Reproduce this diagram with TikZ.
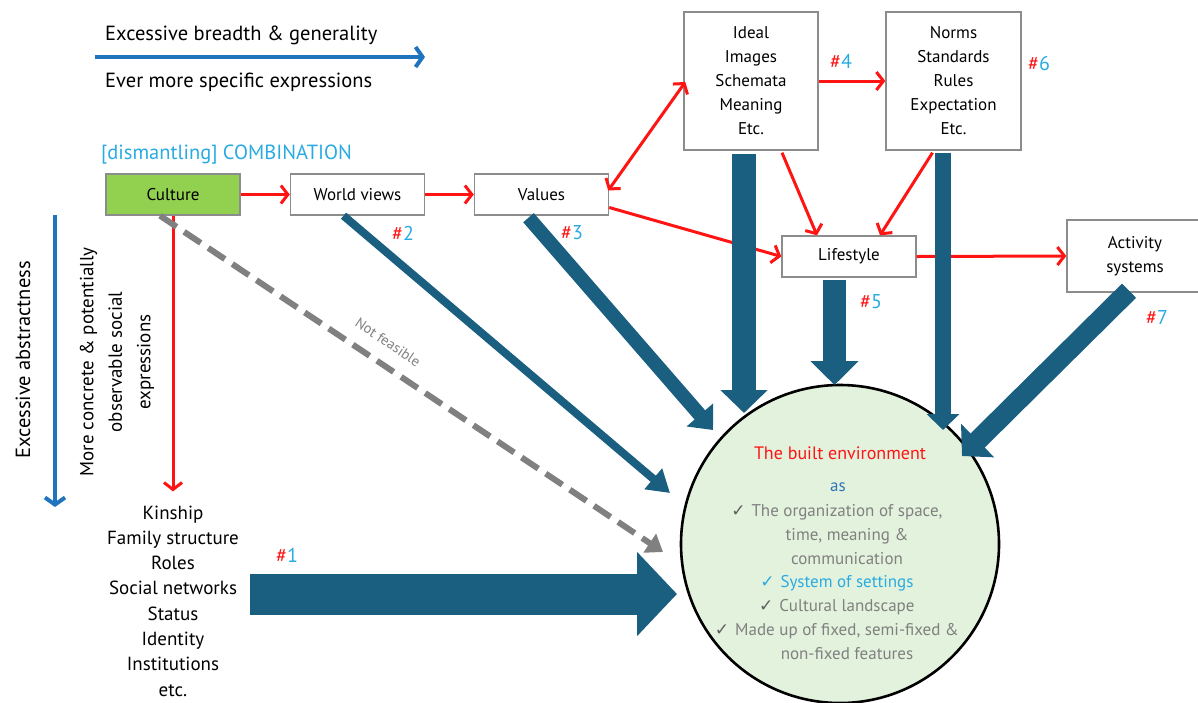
\documentclass[tikz,border=0pt]{standalone}
\usepackage{fontspec}
\setmainfont{PT Sans}
\newfontfamily\symfont{DejaVu Sans}
\usetikzlibrary{arrows.meta,calc}
\definecolor{myred}{RGB}{255,20,20}
\definecolor{mycyan}{RGB}{41,171,226}
\definecolor{legblue}{RGB}{31,116,189}
\definecolor{dblue}{RGB}{26,94,128}
\definecolor{boxgray}{RGB}{140,140,140}
\definecolor{cultgreen}{RGB}{146,208,80}
\definecolor{circfill}{RGB}{227,242,221}
\definecolor{txtgray}{RGB}{128,128,128}
\definecolor{chkgray}{RGB}{95,95,95}
\definecolor{asblue}{RGB}{46,117,182}
\definecolor{dashgray}{RGB}{128,128,128}
\newcommand{\fsz}[2]{\fontsize{#1pt}{#2pt}\selectfont}
\newcommand{\hashnum}[1]{\textcolor{myred}{\#}\textcolor{mycyan}{#1}}
\newcommand{\chk}[1]{\llap{\textcolor{#1}{\symfont ✓}\hspace{6pt}}}
\begin{document}
\begin{tikzpicture}[x=1pt,y=-1pt,
  box/.style={draw=boxgray, line width=1.4pt, fill=white, minimum width=134pt, minimum height=41pt, inner sep=0pt, font=\fsz{17}{24}, align=center},
  plain/.style={inner sep=0pt, font=\fsz{20.5}{24}},
  rarr/.style={draw=myred, line width=3pt, -{Straight Barb[length=7pt,width=18pt]}},
  hashlbl/.style={inner sep=0pt, font=\fsz{20}{24}},
  fat/.style={draw=dblue, line width=#1}
]
\useasboundingbox (0,0) rectangle (1198,702);

% legend
\coordinate (lg1) at (95,57);
\coordinate (lg2) at (425,57);
\draw[draw=legblue, line width=4pt, -{Straight Barb[length=7pt,width=20pt]}] (lg1) -- (lg2);
\node[plain, anchor=west] (leg1) at (105,35) {Excessive breadth \& generality};
\node[plain, anchor=west] (leg2) at (105,82) {Ever more specific expressions};
\node[plain, anchor=west, text=mycyan] (comb) at (101,155) {[dismantling] COMBINATION};

% vertical legend
\coordinate (vl1) at (55,215);
\coordinate (vl2) at (55,507);
\draw[draw=legblue, line width=4pt, -{Straight Barb[length=7pt,width=20pt]}] (vl1) -- (vl2);
\node[plain, rotate=90] (abs) at (23,360) {Excessive abstractness};
\node[plain, rotate=90, align=center, font=\fsz{19}{28.5}] (conc) at (117,362) {More concrete \& potentially\\observable social\\expressions};

% circle
\node[circle, draw=black, line width=2.6pt, fill=circfill, minimum size=318pt, inner sep=0pt] (env) at (840,544) {};
\node[inner sep=0pt, font=\fsz{18}{24}, text=myred] (envt) at (840,453) {The built environment};
\node[inner sep=0pt, font=\fsz{17}{24}, text=asblue] (envas) at (838,487) {as};
\node[inner sep=0pt, font=\fsz{17}{23.8}, align=center, text=txtgray] (envb) at (847,582)
 {\chk{chkgray}The organization of space,\\
  time, meaning \&\\
  communication\\
  \textcolor{mycyan}{\chk{mycyan}System of settings}\\
  \chk{chkgray}Cultural landscape\\
  \chk{chkgray}Made up of fixed, semi-fixed \&\\
  non-fixed features};

% boxes
\node[box, fill=cultgreen] (culture) at (173,194.5) {Culture};
\node[box] (world) at (357.5,194.5) {World views};
\node[box] (values) at (541.5,194.5) {Values};
\node[box, minimum height=138pt] (ideal) at (751,81) {Ideal\\Images\\Schemata\\Meaning\\Etc.};
\node[box, minimum height=138pt, minimum width=135pt] (norms) at (953.5,81) {Norms\\Standards\\Rules\\Expectation\\Etc.};
\node[box] (life) at (849,256.5) {Lifestyle};
\node[box, minimum width=136pt, minimum height=72pt] (act) at (1135,256) {Activity\\systems};

% list
\node[inner sep=0pt, align=center, font=\fsz{19}{25.3}] (kin) at (173,601) {Kinship\\Family structure\\Roles\\Social networks\\Status\\Identity\\Institutions\\etc.};

% red arrows
\draw[rarr] (culture.east) -- (world.west);
\draw[rarr] (world.east) -- (values.west);
\draw[rarr, {Straight Barb[length=7pt,width=18pt]}-{Straight Barb[length=7pt,width=18pt]}] ($(values.east)+(-1,-4)$) -- ($(ideal.west)+(2,1)$);
\draw[rarr] (ideal.east) -- (norms.west);
\draw[rarr] ($(values.east)+(0,13)$) -- (life.west);
\draw[rarr] ($(ideal.south)+(31,2)$) -- ($(life.north)+(-32,0)$);
\draw[rarr] ($(norms.south)+(-21,2)$) -- ($(life.north)+(31,0)$);
\draw[rarr] (life.east) -- (act.west);
\draw[rarr] (culture.south) -- ($(kin.north)+(0,-14)$);

% dashed gray
\coordinate (dt) at (663,552);
\draw[draw=dashgray, line width=6pt, dash pattern=on 20pt off 9pt, -{Triangle[length=16pt,width=22pt]}] ($(culture.south)+(-13,0)$) -- (dt);
\node[inner sep=0pt, rotate=-34, text=txtgray, font=\fsz{14.5}{16}] (nf) at (388,342) {Not feasible};

% thick blue arrows
\coordinate (t1) at (677,594);
\coordinate (t2) at (670,493);
\coordinate (t3) at (713,430);
\coordinate (ti) at (744,413);
\coordinate (tl) at (834.5,385);
\coordinate (tn) at (943,430);
\coordinate (ta) at (962,456);
\coordinate (s1) at (250,594);
\draw[fat=41pt, -{Triangle[length=40pt,width=82pt]}] (s1) -- (t1);
\draw[fat=8pt, -{Triangle[length=22pt,width=26pt]}] ($(world.south)+(-14,0)$) -- (t2);
\draw[fat=14pt, -{Triangle[length=20pt,width=34pt]}] ($(values.south)+(-13,2)$) -- (t3);
\draw[fat=24pt, -{Triangle[length=23pt,width=46pt]}] ($(ideal.south)+(-7,3)$) -- (ti);
\draw[fat=23pt, -{Triangle[length=24pt,width=47pt]}] ($(life.south)+(-14.5,2)$) -- (tl);
\draw[fat=16pt, -{Triangle[length=16pt,width=32pt]}] ($(norms.south)+(-10.5,2)$) -- (tn);
\draw[fat=20pt, -{Triangle[length=22pt,width=46pt]}] ($(act.south)+(-6,-2)$) -- (ta);

% hash labels
\node[hashlbl] (h1) at (287,555) {\hashnum{1}};
\node[hashlbl] (h2) at (403,233) {\hashnum{2}};
\node[hashlbl] (h3) at (572,233) {\hashnum{3}};
\node[hashlbl] (h4) at (841,61) {\hashnum{4}};
\node[hashlbl] (h5) at (871,302) {\hashnum{5}};
\node[hashlbl] (h6) at (1039,63) {\hashnum{6}};
\node[hashlbl] (h7) at (1157,317) {\hashnum{7}};
\end{tikzpicture}
\end{document}
